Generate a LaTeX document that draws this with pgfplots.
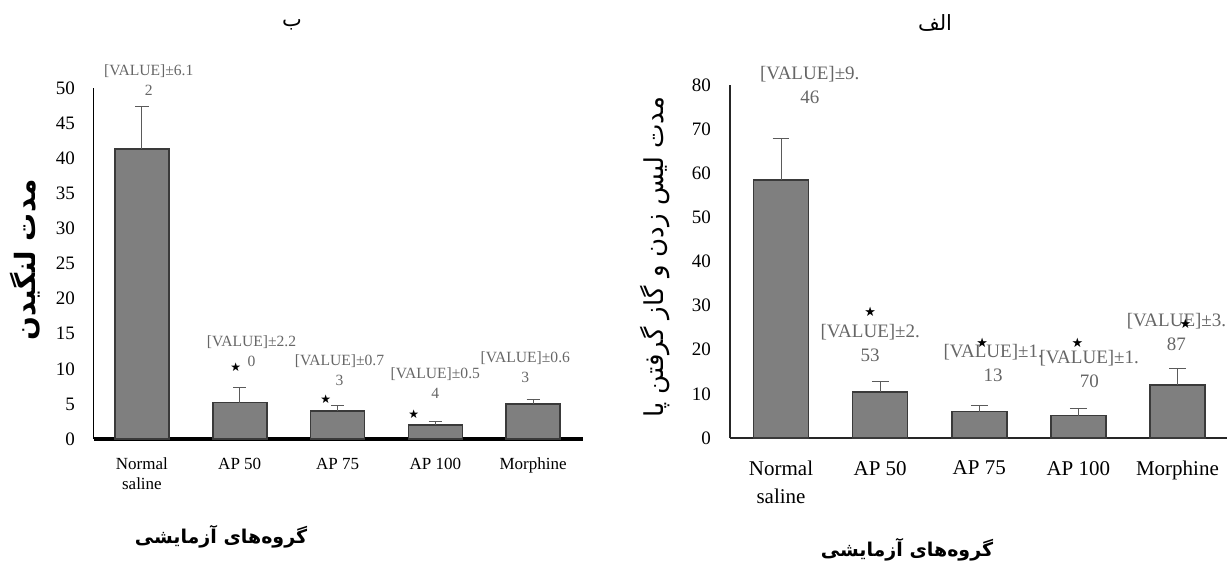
\documentclass[border=0pt]{standalone}
\usepackage{fontspec}
\usepackage{pgfplots}
\pgfplotsset{compat=1.18}
\setmainfont{Liberation Serif}
\newfontfamily\fa[Script=Arabic]{DejaVu Sans}
\newfontfamily\sym{DejaVu Sans}
\TeXXeTstate=1
\definecolor{barfill}{HTML}{7F7F7F}
\definecolor{barline}{HTML}{3A3A3A}
\definecolor{lbl}{HTML}{666666}
\definecolor{errc}{HTML}{5A5A5A}
\begin{document}
\begin{tikzpicture}
\useasboundingbox (0,0) rectangle (615pt,282pt);
% ---------- left chart (ب) ----------
\begin{axis}[
  at={(47pt,62.5pt)}, anchor=south west,
  scale only axis, width=244.5pt, height=175.5pt,
  xmin=-0.49, xmax=4.51, ymin=0, ymax=50,
  axis lines*=left, axis line style={black, line width=0.5pt},
  x axis line style={line width=1.6pt},
  ytick={0,5,...,50}, xtick={0,1,2,3,4},
  xticklabels={{Normal\\saline},AP 50,AP 75,AP 100,Morphine},
  major tick length=0pt,
  /pgf/number format/assume math mode=true,
  yticklabel style={font=\fontsize{9.5}{11}\selectfont, anchor=east, xshift=-6pt},
  xticklabel style={font=\fontsize{8.5}{10}\selectfont, align=center, anchor=north, yshift=-6pt},
  clip=false,
  ybar, bar width=27pt,
]
\addplot[fill=barfill, draw=barline, line width=0.8pt,
  error bars/.cd, y dir=plus, y explicit,
  error bar style={errc, line width=0.5pt},
  error mark options={rotate=90, mark size=3.3pt, errc, line width=0.5pt}]
  coordinates {(0,41.3) +- (0,6.12) (1,5.2) +- (0,2.2) (2,4.0) +- (0,0.8) (3,2.0) +- (0,0.54) (4,5.0) +- (0,0.63)};
\begin{scope}[every node/.style={inner sep=0pt, align=center, text=lbl, font=\fontsize{7.8}{10}\selectfont}]
\node at (axis cs:0.07,51.1) {[VALUE]±6.1\\2};
\node at (axis cs:1.12,12.46) {[VALUE]±2.2\\0};
\node at (axis cs:2.02,9.83) {[VALUE]±0.7\\3};
\node at (axis cs:3.0,7.9) {[VALUE]±0.5\\4};
\node at (axis cs:3.92,10.26) {[VALUE]±0.6\\3};
\end{scope}
\begin{scope}[every node/.style={inner sep=0pt, font=\sym\fontsize{6}{6}\selectfont}]
\node at (axis cs:0.96,10.26) {★};
\node at (axis cs:1.88,5.7) {★};
\node at (axis cs:2.78,3.56) {★};
\end{scope}
\end{axis}
% ---------- right chart (الف) ----------
\begin{axis}[
  at={(365pt,63pt)}, anchor=south west,
  scale only axis, width=248.5pt, height=176.5pt,
  xmin=-0.515, xmax=4.5, ymin=0, ymax=80,
  axis lines*=left, axis line style={black!85, line width=0.6pt},
  ytick={0,10,...,80}, xtick={0,1,2,3,4},
  xticklabels={{Normal\\saline},AP 50,AP 75,AP 100,Morphine},
  major tick length=0pt,
  /pgf/number format/assume math mode=true,
  yticklabel style={font=\fontsize{9.5}{11}\selectfont, anchor=east, xshift=-6pt},
  xticklabel style={font=\fontsize{10.5}{14}\selectfont, align=center, anchor=north, yshift=-8pt},
  clip=false,
  ybar, bar width=27.5pt,
]
\addplot[fill=barfill, draw=barline, line width=0.8pt,
  error bars/.cd, y dir=plus, y explicit,
  error bar style={errc, line width=0.5pt},
  error mark options={rotate=90, mark size=4.2pt, errc, line width=0.5pt}]
  coordinates {(0,58.5) +- (0,9.46) (1,10.4) +- (0,2.4) (2,6.0) +- (0,1.4) (3,5.1) +- (0,1.6) (4,12.0) +- (0,3.8)};
\begin{scope}[every node/.style={inner sep=0pt, align=center, text=lbl, font=\fontsize{9.5}{12}\selectfont}]
\node at (axis cs:0.29,80.0) {[VALUE]±9.\\46};
\node at (axis cs:0.9,21.5) {[VALUE]±2.\\53};
\node at (axis cs:2.14,16.9) {[VALUE]±1.\\13};
\node at (axis cs:3.11,15.6) {[VALUE]±1.\\70};
\node at (axis cs:3.99,24.1) {[VALUE]±3.\\87};
\end{scope}
\begin{scope}[every node/.style={inner sep=0pt, font=\sym\fontsize{6.5}{6.5}\selectfont}]
\node at (axis cs:0.9,28.6) {★};
\node at (axis cs:2.03,21.5) {★};
\node at (axis cs:2.99,21.5) {★};
\node at (axis cs:4.08,25.9) {★};
\end{scope}
\end{axis}
% ---------- titles and axis labels ----------
\node[font=\fa\fontsize{10.5}{12}\selectfont] at (146pt,269.5pt) {\beginR ب\endR};
\node[font=\fa\fontsize{10.5}{12}\selectfont] at (467.5pt,270.5pt) {\beginR الف\endR};
\node[rotate=90, font=\fa\bfseries\fontsize{14}{16}\selectfont] at (12.5pt,152pt) {\beginR مدت لنگیدن\endR};
\node[rotate=90, font=\fa\fontsize{13}{15}\selectfont] at (327.5pt,153.5pt) {\beginR مدت لیس زدن و گاز گرفتن پا\endR};
\node[font=\fa\bfseries\fontsize{9.5}{12}\selectfont] at (110.5pt,13.5pt) {\beginR گروه‌های آزمایشی\endR};
\node[font=\fa\bfseries\fontsize{9.5}{12}\selectfont] at (453.5pt,7pt) {\beginR گروه‌های آزمایشی\endR};
\end{tikzpicture}
\end{document}
